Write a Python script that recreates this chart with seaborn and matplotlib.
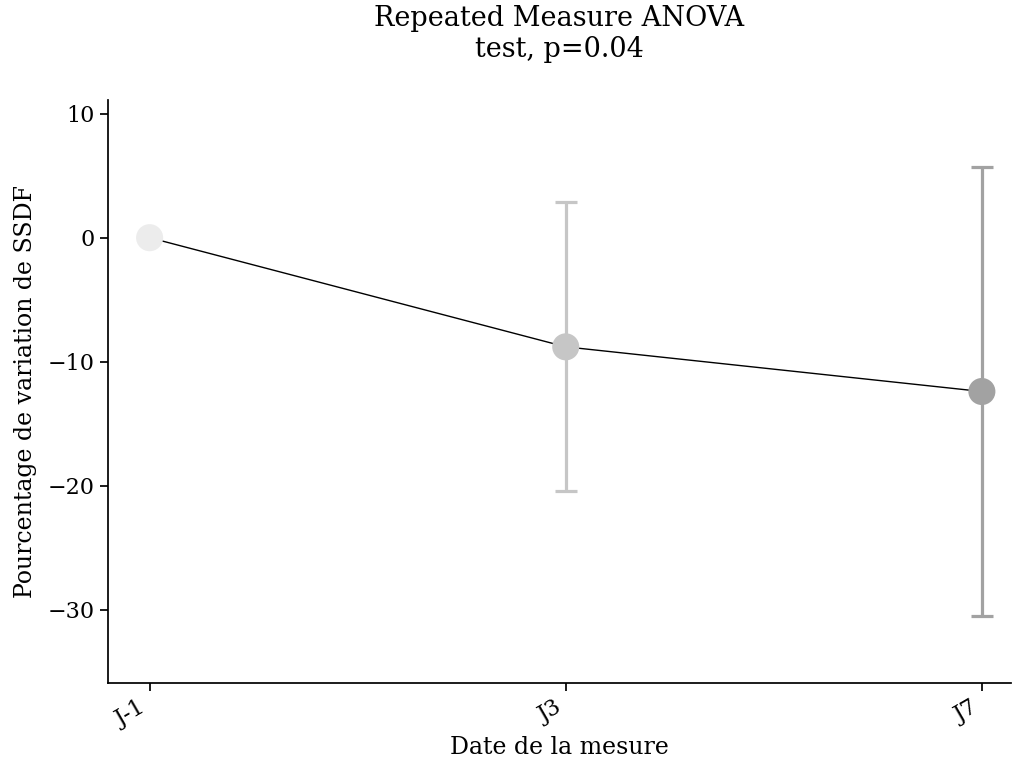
import matplotlib
matplotlib.use("Agg")
import matplotlib.pyplot as plt
import seaborn as sns
import pandas as pd
import numpy as np

dates = ["J-1", "J3", "J7"]
means = [0.0, -8.8, -12.4]
err_low = [0.0, -20.4, -30.5]
err_high = [0.0, 2.9, 5.7]
colors = ["#ececec", "#c6c6c6", "#a2a2a2"]

sns.set_theme(style="ticks")
plt.rcParams['font.family'] = ['DejaVu Serif']
plt.rcParams['text.color'] = 'black'
plt.rcParams['axes.labelcolor'] = 'black'
plt.rcParams['xtick.color'] = 'black'
plt.rcParams['ytick.color'] = 'black'
plt.rcParams['axes.edgecolor'] = 'black'

fig = plt.figure(figsize=(10.13, 7.62), dpi=100)
ax = fig.add_axes([108/1013, 1 - 683/762, (1011-108)/1013, (683-100)/762])

pos = np.arange(len(dates))

sns.lineplot(x=pos, y=means, color="black", linewidth=1.0, ax=ax, zorder=1)
for i in range(len(dates)):
    if err_high[i] != err_low[i]:
        ax.errorbar(pos[i], means[i],
                    yerr=[[means[i] - err_low[i]], [err_high[i] - means[i]]],
                    fmt="none", ecolor=colors[i], elinewidth=2.3, capsize=8,
                    capthick=2.3, zorder=2)
sns.scatterplot(x=pos, y=means, hue=dates, palette=colors, s=380,
                edgecolor="none", legend=False, ax=ax, zorder=3)

ax.set_xticks(pos)
ax.set_xticklabels(dates, rotation=30, ha="right")
ax.set_xlim(-0.1, 2.07)
ax.set_ylim(-35.9, 11.1)
ax.set_yticks([10, 0, -10, -20, -30])
ax.tick_params(labelsize=16, length=6)
ax.set_xlabel("Date de la mesure", fontsize=17)
ax.set_ylabel("Pourcentage de variation de SSDF", fontsize=17, labelpad=8)
ax.set_title("Repeated Measure ANOVA\ntest, p=0.04", fontsize=19.5, pad=31)
sns.despine(ax=ax)

fig.savefig("out.png", dpi=100)
